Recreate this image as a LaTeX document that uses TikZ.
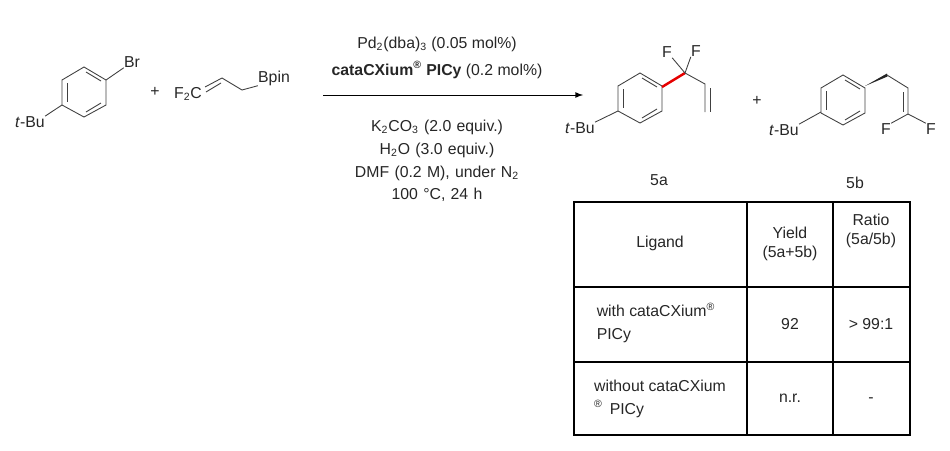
\documentclass[tikz,border=0pt]{standalone}
\usepackage{fontspec}
\setmainfont{Liberation Sans}
\newcommand{\chsub}[1]{\textsubscript{#1}}
\begin{document}
\begin{tikzpicture}[x=0.02cm, y=-0.02cm, font=\fontsize{9}{11}\selectfont,
	bond/.style={line width=0.5pt, draw=black!75},
	lbl/.style={inner sep=0pt, text=black!85},
	cell/.style={align=center, inner sep=0pt, text=black!85}]
	\useasboundingbox (0,0) rectangle (950,450);
	% benzene rings
	\foreach \cx/\cy in {84/92, 640/98, 843/100}
	{
		\draw[bond] (\cx,\cy-25) -- (\cx+22,\cy-12) -- (\cx+22,\cy+13) -- (\cx,\cy+25) -- (\cx-22,\cy+13) -- (\cx-22,\cy-12) -- cycle;
		\draw[bond] (\cx+2,\cy-20) -- (\cx+17,\cy-11);
		\draw[bond] (\cx+17,\cy+11) -- (\cx+2,\cy+20);
		\draw[bond] (\cx-17,\cy-9) -- (\cx-17,\cy+10);
	}
	% substrate
	\node[lbl] (br) at (132,62) {Br};
	\node[lbl] (tbu1) at (30,122) {\textit{t}-Bu};
	\draw[bond] (106,80) -- (br.south west);
	\draw[bond] (62,105) -- (tbu1.north east);
	\node[lbl] (plus1) at (155,92) {+};
	\node[lbl] (cf2) at (188,94) {F\chsub{2}C};
	\coordinate (ca) at (222,78);
	\coordinate (cb) at (242,90);
	\draw[bond] (205,87) -- (ca) -- (cb);
	\draw[bond] (206,92) -- (221,83);
	\node[lbl] (bpin) at (274,78) {Bpin};
	\draw[bond] (cb) -- (bpin.south west);
	% arrow and conditions
	\draw[line width=0.5pt, -latex] (323,95) -- (583,95);
	\node[lbl] (cat) at (437,44) {Pd\chsub{2}(dba)\chsub{3} (0.05 mol\%)};
	\node[lbl] (lig) at (437,70) {\textbf{cataCXium\textsuperscript{®} PICy} (0.2 mol\%)};
	\node[lbl, align=center, text width=5cm] (cond) at (437,161)
		{K\chsub{2}CO\chsub{3} (2.0 equiv.)\\[2pt] H\chsub{2}O (3.0 equiv.)\\[2pt] DMF (0.2 M), under N\chsub{2}\\[2pt] 100 \textdegree C, 24 h};
	% product 5a
	\coordinate (cf) at (685,73);
	\draw[line width=1.4pt, red!90!black] (662,87) -- (cf);
	\node[lbl] (fa1) at (667,52) {F};
	\node[lbl] (fa2) at (696,51) {F};
	\draw[bond] (cf) -- (fa1.south east);
	\draw[bond] (cf) -- (fa2.south west);
	\draw[bond] (cf) -- (705,84) -- (705,112);
	\draw[bond] (710,88) -- (710,112);
	\node[lbl] (tbu2) at (580,128) {\textit{t}-Bu};
	\draw[bond] (618,111) -- (tbu2.north east);
	\node[lbl] (p5a) at (659,180) {5a};
	\node[lbl] (plus2) at (757,101) {+};
	% product 5b
	\fill[black!85] (865,86) -- (887,73.5) -- (887.5,76.5) -- cycle;
	\coordinate (cv) at (908,114);
	\draw[bond] (887,75) -- (908,88) -- (cv);
	\draw[bond] (903,92) -- (903,112);
	\node[lbl] (fb1) at (886,129) {F};
	\node[lbl] (fb2) at (931,129) {F};
	\draw[bond] (cv) -- (fb1.north east);
	\draw[bond] (cv) -- (fb2.north west);
	\node[lbl] (tbu3) at (784,130) {\textit{t}-Bu};
	\draw[bond] (821,112) -- (tbu3.north east);
	\node[lbl] (p5b) at (855,183) {5b};
	% table
	\draw[line width=0.6pt] (574,202) rectangle (910,435);
	\draw[line width=0.6pt] (747,202) -- (747,435) (833,202) -- (833,435);
	\draw[line width=0.6pt] (574,287) -- (910,287) (574,362) -- (910,362);
	\node[cell] (hlig) at (660,243) {Ligand};
	\node[cell] (hyld) at (790,244) {Yield\\(5a+5b)};
	\node[cell] (hrat) at (871,231) {Ratio\\(5a/5b)};
	\node[cell, align=left] (r1lig) at (656,323) {with cataCXium\textsuperscript{®}\\[2pt]PICy};
	\node[cell] (r1yld) at (790,324) {92};
	\node[cell] (r1rat) at (871,324) {> 99:1};
	\node[cell, align=left] (r2lig) at (660,399) {without cataCXium\\[2pt]\textsuperscript{®}\, PICy};
	\node[cell] (r2yld) at (790,398) {n.r.};
	\node[cell] (r2rat) at (871,400) {-};
\end{tikzpicture}
\end{document}
